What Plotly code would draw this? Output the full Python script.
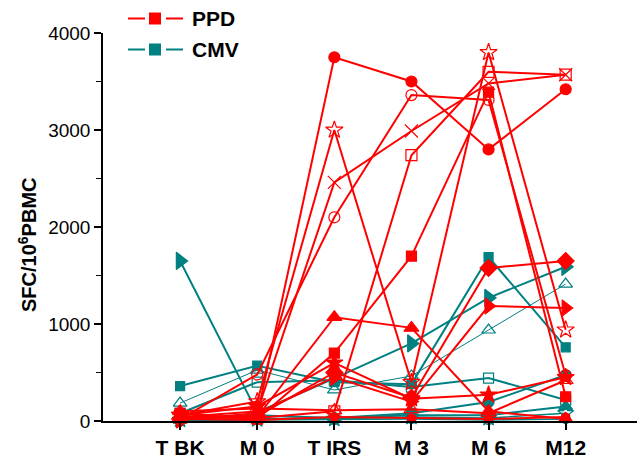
import plotly.graph_objects as go

# ---- data ----
timepoints = ["T BK", "M 0", "T IRS", "M 3", "M 6", "M12"]
x_pos = [0, 1, 2, 3, 4, 5]
y_ticks = [0, 1000, 2000, 3000, 4000]

# PPD series (SFC / 10^6 PBMC) at each timepoint
ppd_a = [30, 60, 3750, 3500, 2800, 3420]
ppd_b = [60, 200, 3000, 400, 3800, 940]
ppd_c = [40, 100, 2460, 2990, 3480, 3570]
ppd_d = [20, 480, 2100, 3360, 3310, 470]
ppd_e = [50, 30, 100, 2740, 3600, 3570]
ppd_f = [80, 20, 700, 1700, 3390, 250]
ppd_g = [30, 40, 1070, 960, 100, 20]
ppd_h = [20, 50, 500, 240, 1577, 1650]
ppd_i = [10, 80, 450, 200, 1185, 1165]
ppd_j = [60, 150, 600, 230, 270, 450]
ppd_k = [100, 130, 110, 120, 80, 420]
ppd_l = [20, 10, 40, 30, 20, 40]

# CMV series
cmv_a = [1650, 90, 440, 800, 1270, 1590]
cmv_b = [360, 570, 400, 380, 1690, 760]
cmv_c = [185, 525, 320, 464, 938, 1412]
cmv_d = [80, 400, 420, 350, 443, 216]
cmv_e = [20, 60, 30, 80, 196, 474]
cmv_f = [10, 20, 30, 60, 60, 150]
cmv_g = [10, 15, 20, 40, 30, 80]
cmv_h = [5, 10, 10, 20, 10, 20]

ppd_series = [ppd_a, ppd_b, ppd_c, ppd_d, ppd_e, ppd_f, ppd_g, ppd_h, ppd_i, ppd_j, ppd_k, ppd_l]
cmv_series = [cmv_a, cmv_b, cmv_c, cmv_d, cmv_e, cmv_f, cmv_g, cmv_h]

# ---- styles ----
RED = "#ff0000"
TEAL = "#008080"
FONT = "Arial, Liberation Sans, sans-serif"
ppd_symbols = ["circle", "star-open", "x-thin-open", "circle-open", "square-open", "square",
               "triangle-up", "diamond", "triangle-right", "star", "triangle-up-open", "hexagon"]
ppd_sizes = [11, 13, 13, 11, 11, 10, 13, 13, 14, 13, 13, 9]
cmv_symbols = ["triangle-right", "square", "triangle-up-open", "square-open", "circle",
               "triangle-up", "star-open", "circle-open"]
cmv_sizes = [15, 9, 12, 10, 11, 12, 12, 9]
cmv_widths = [2, 2, 1, 2, 2, 2, 1.5, 1.5]

# plot area in pixels (for placing the hand-drawn legend / title)
L, R, T, B = 103, 637, 33, 421
W, H = 637, 458


def px(xp):
    return (xp - L) / (R - L)


def py(yp):
    return (B - yp) / (B - T)


fig = go.Figure()

for i, vals in enumerate(cmv_series):
    fig.add_trace(go.Scatter(
        x=x_pos, y=vals, mode="lines+markers",
        line=dict(color=TEAL, width=cmv_widths[i]),
        marker=dict(symbol=cmv_symbols[i], size=cmv_sizes[i], color=TEAL,
                    line=dict(color=TEAL, width=1.2)),
        name="CMV", showlegend=False, cliponaxis=False, hoverinfo="skip"))

for i, vals in enumerate(ppd_series):
    fig.add_trace(go.Scatter(
        x=x_pos, y=vals, mode="lines+markers",
        line=dict(color=RED, width=2),
        marker=dict(symbol=ppd_symbols[i], size=ppd_sizes[i], color=RED,
                    line=dict(color=RED, width=1.2)),
        name="PPD", showlegend=False, cliponaxis=False, hoverinfo="skip"))

# hand-drawn legend: line - square - line, bold label
shapes = []
annotations = []
for label, color, yc in [("PPD", RED, 18.5), ("CMV", TEAL, 49.5)]:
    shapes.append(dict(type="line", xref="paper", yref="paper",
                       x0=px(128), x1=px(145), y0=py(yc), y1=py(yc),
                       line=dict(color=color, width=2)))
    shapes.append(dict(type="line", xref="paper", yref="paper",
                       x0=px(166), x1=px(183), y0=py(yc), y1=py(yc),
                       line=dict(color=color, width=2)))
    shapes.append(dict(type="rect", xref="paper", yref="paper",
                       x0=px(149), x1=px(161), y0=py(yc - 6), y1=py(yc + 6),
                       fillcolor=color, line=dict(color=color, width=0)))
    annotations.append(dict(text="<b>%s</b>" % label, xref="paper", yref="paper",
                            x=px(190), y=py(yc), xanchor="left", yanchor="middle",
                            showarrow=False, font=dict(size=21, family=FONT, color="black")))

# y-axis title
annotations.append(dict(text="<b>SFC/10<sup>6</sup>PBMC</b>", xref="paper", yref="paper",
                        x=px(27), y=py(245), textangle=-90, xanchor="center", yanchor="middle",
                        showarrow=False, font=dict(size=20, family=FONT, color="black")))

fig.update_layout(
    width=W, height=H,
    margin=dict(l=L, r=W - R, t=T, b=H - B),
    plot_bgcolor="white", paper_bgcolor="white",
    font=dict(family=FONT, color="black"),
    showlegend=False,
    shapes=shapes, annotations=annotations,
    xaxis=dict(range=[-1, 5.925], tickvals=x_pos, ticktext=["<b>%s</b>" % t for t in timepoints],
               showgrid=False, zeroline=False, showline=True, linecolor="black", linewidth=1.5,
               ticks="outside", ticklen=7, tickwidth=1.5, tickcolor="black",
               tickfont=dict(size=21)),
    yaxis=dict(range=[0, 4000], tickvals=y_ticks,
               showgrid=False, zeroline=False, showline=True, linecolor="black", linewidth=1.5,
               ticks="outside", ticklen=7, tickwidth=1.5, tickcolor="black",
               tickfont=dict(size=19),
               minor=dict(dtick=500, ticks="outside", ticklen=5, tickcolor="black", tickwidth=1.2)),
)

fig.write_html("out.html")
